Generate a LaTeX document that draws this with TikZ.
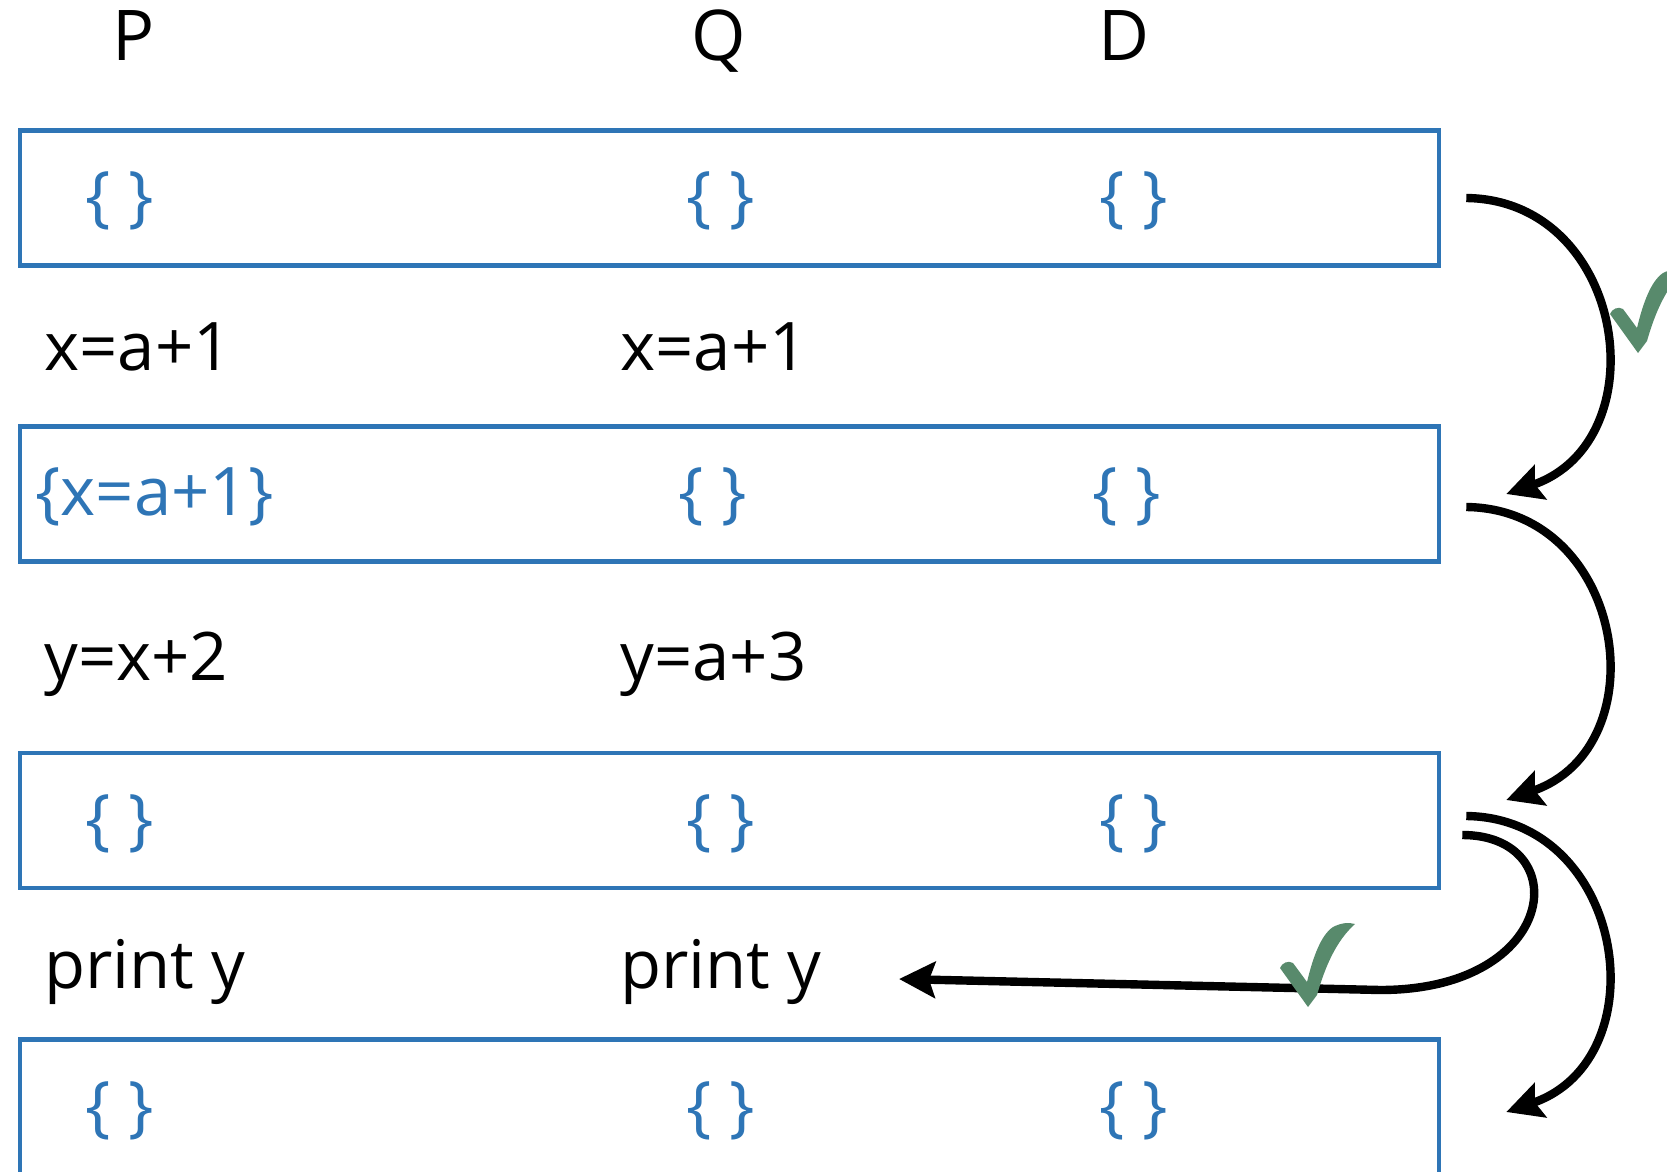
\documentclass[tikz,border=0pt]{standalone}
\usepackage{fontspec}
\setmainfont{Open Sans}
\usetikzlibrary{arrows.meta}
\definecolor{setblue}{RGB}{46,117,182}
\definecolor{okgreen}{RGB}{88,138,108}

\begin{document}
\begin{tikzpicture}[x=0.5pt,y=-0.5pt,
    setbox/.style={draw=setblue, line width=2.3pt, minimum width=709.5pt, minimum height=67.5pt, inner sep=0pt},
    set/.style={text=setblue, font=\fontsize{33.5}{40}\selectfont, inner sep=0pt},
    stmt/.style={font=\fontsize{33.5}{40}\selectfont, anchor=base west, inner sep=0pt},
    head/.style={font=\fontsize{35}{40}\selectfont, anchor=base, inner sep=0pt},
    flow/.style={line width=4.2pt, -{Stealth[length=18pt,width=18pt,inset=3pt]}},
    okmark/.pic={\fill[okgreen] (0,0) -- (-28,-39) .. controls (-26,-44) and (-20,-47) .. (-15,-44) -- (-1,-25)
        .. controls (5,-50) and (13,-72) .. (25,-80) .. controls (33,-84) and (40,-85) .. (47,-83)
        .. controls (28,-66) and (17,-40) .. (9,-12) -- cycle;}]
    \useasboundingbox (0,0) rectangle (1667,1172);
    % Headers
    \node[head] (hP) at (134,61) {P};
    \node[head] (hQ) at (719,61) {Q};
    \node[head] (hD) at (1124,61) {D};
    % Boxes
    \node[setbox] (b1) at (729.5,198) {};
    \node[setbox] (b2) at (729.5,494) {};
    \node[setbox] (b3) at (729.5,820.5) {};
    \node[setbox] (b4) at (729.5,1107) {};
    % Sets
    \node[set] (s1p) at (120,201) {\{ \}};
    \node[set] (s1q) at (721,201) {\{ \}};
    \node[set] (s1d) at (1134,201) {\{ \}};
    \node[set, anchor=west] (s2p) at (35,497) {\{x=a+1\}};
    \node[set] (s2q) at (713,497) {\{ \}};
    \node[set] (s2d) at (1127,497) {\{ \}};
    \node[set] (s3p) at (120,824) {\{ \}};
    \node[set] (s3q) at (721,824) {\{ \}};
    \node[set] (s3d) at (1134,824) {\{ \}};
    \node[set] (s4p) at (120,1111) {\{ \}};
    \node[set] (s4q) at (721,1111) {\{ \}};
    \node[set] (s4d) at (1134,1111) {\{ \}};
    % Statements
    \node[stmt] (p1) at (44,370) {x=a+1};
    \node[stmt] (q1) at (620,370) {x=a+1};
    \node[stmt] (p2) at (44,680) {y=x+2};
    \node[stmt] (q2) at (620,680) {y=a+3};
    \node[stmt] (p3) at (44,988) {print y};
    \node[stmt] (q3) at (620,988) {print y};
    % Flow
    \draw[flow] ([xshift=12.5pt]b1.east) .. controls +(160,2) and +(154,-53) .. ([xshift=32.5pt]b2.east);
    \draw[flow] ([xshift=12.5pt,yshift=-6.5pt]b2.east) .. controls +(160,2) and +(154,-53) .. ([xshift=32.5pt,yshift=10.25pt]b3.east);
    \draw[flow] ([xshift=12.5pt,yshift=2.25pt]b3.east) .. controls +(160,2) and +(154,-53) .. ([xshift=32.5pt,yshift=-2.5pt]b4.east);
    \draw[flow] ([xshift=10.5pt,yshift=-7.25pt]b3.east) .. controls +(113,0) and +(180,0) .. ++(-82,155) -- ([xshift=38.5pt,yshift=4.5pt]q3.base east);
    % Checks
    \pic at (1638,353) {okmark};
    \pic at (1308,1007) {okmark};
\end{tikzpicture}
\end{document}
